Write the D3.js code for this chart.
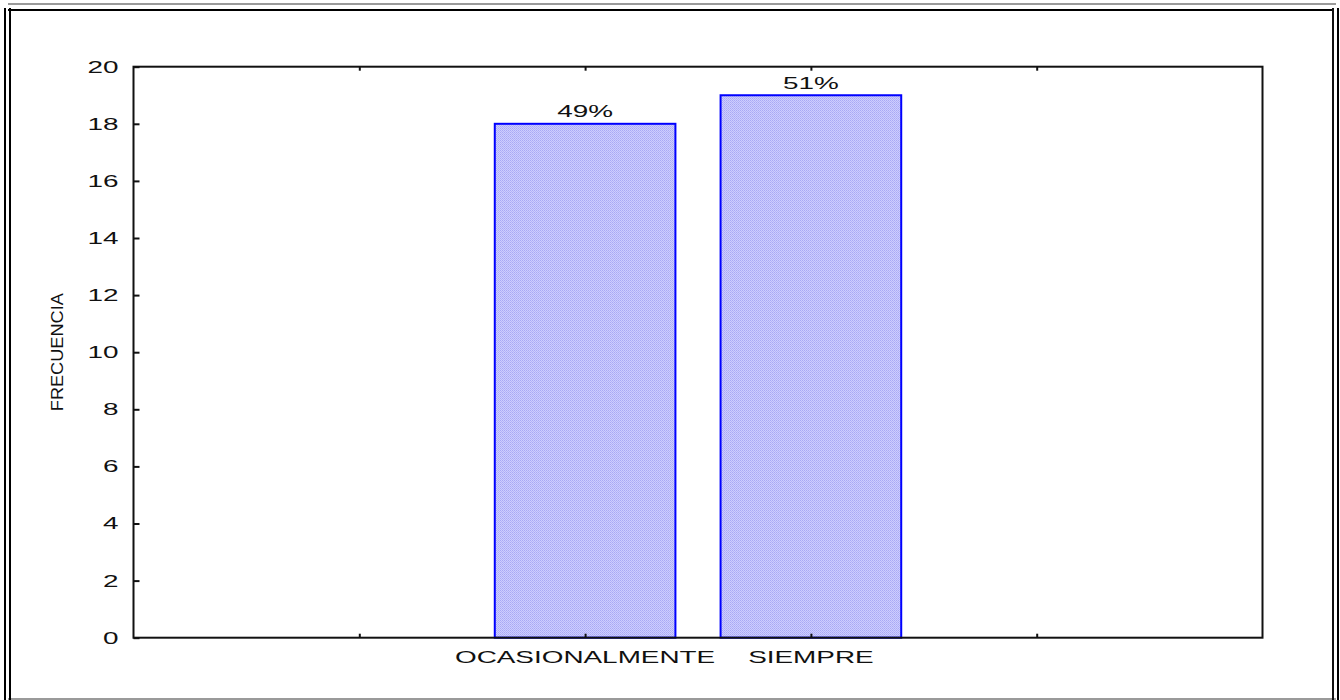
<!DOCTYPE html>
<html>
<head>
<meta charset="utf-8">
<script src="https://cdn.jsdelivr.net/npm/d3@7"></script>
<style>
  html, body { margin: 0; padding: 0; background: #fff; }
  svg { display: block; }
  text { font-family: "Liberation Sans", Arial, sans-serif; fill: #111; }
</style>
</head>
<body>
<svg id="chart" width="1340" height="700"></svg>
<script>
// Response categories and their frequencies
const categories = ["OCASIONALMENTE", "SIEMPRE"];
const frequencies = [18, 19];
// Slot of each category on the horizontal axis (0..5 frame, ticks at 1..4)
const categorySlots = [2, 3];
const xTickSlots = [1, 2, 3, 4];
const yTicks = [0, 2, 4, 6, 8, 10, 12, 14, 16, 18, 20];
const yTitle = "FRECUENCIA";

const W = 1340, H = 700;
const plot = { left: 133.5, right: 1262.5, top: 66.7, bottom: 637.7 };
const barWidthSlots = 0.8;
const fontSize = 17;
const stretch = 1.64; // horizontal widening of the lettering

const svg = d3.select("#chart");

// Dotted fill for the bars
const defs = svg.append("defs");
const pat = defs.append("pattern")
  .attr("id", "dots").attr("patternUnits", "userSpaceOnUse")
  .attr("width", 2).attr("height", 2);
pat.append("rect").attr("width", 2).attr("height", 2).attr("fill", "#cdcdff");
pat.append("rect").attr("width", 1).attr("height", 1).attr("fill", "#a9a9f4");
pat.append("rect").attr("x", 1).attr("y", 1).attr("width", 1).attr("height", 1).attr("fill", "#b4b4f6");

// Outer double frame
svg.append("line").attr("x1", 8).attr("x2", 1336).attr("y1", 4).attr("y2", 4)
  .attr("stroke", "#9a9a9a").attr("stroke-width", 2);
svg.append("line").attr("x1", 8).attr("x2", 1336).attr("y1", 699).attr("y2", 699)
  .attr("stroke", "#9a9a9a").attr("stroke-width", 2);
svg.append("line").attr("x1", 5).attr("x2", 5).attr("y1", 8).attr("y2", 700)
  .attr("stroke", "#000").attr("stroke-width", 2);
svg.append("line").attr("x1", 1338).attr("x2", 1338).attr("y1", 8).attr("y2", 700)
  .attr("stroke", "#000").attr("stroke-width", 2);
svg.append("line").attr("x1", 8).attr("x2", 1334).attr("y1", 10).attr("y2", 10)
  .attr("stroke", "#000").attr("stroke-width", 2);
svg.append("line").attr("x1", 10).attr("x2", 10).attr("y1", 8).attr("y2", 700)
  .attr("stroke", "#000").attr("stroke-width", 2);
svg.append("line").attr("x1", 1333).attr("x2", 1333).attr("y1", 8).attr("y2", 700)
  .attr("stroke", "#111").attr("stroke-width", 2);

// Scales
const x = d3.scaleLinear().domain([0, 5]).range([plot.left, plot.right]);
const y = d3.scaleLinear().domain([0, 20]).range([plot.bottom, plot.top]);

function widen(sel) {
  sel.each(function () {
    const len = this.getComputedTextLength();
    d3.select(this).attr("textLength", len * stretch).attr("lengthAdjust", "spacingAndGlyphs");
  });
}

// Bars
const data = categories.map((c, i) => ({ cat: c, slot: categorySlots[i], value: frequencies[i] }));
const total = d3.sum(frequencies);

svg.append("g").selectAll("rect").data(data).join("rect")
  .attr("x", d => x(d.slot - barWidthSlots / 2))
  .attr("width", d => x(d.slot + barWidthSlots / 2) - x(d.slot - barWidthSlots / 2))
  .attr("y", d => y(d.value))
  .attr("height", d => y(0) - y(d.value))
  .attr("fill", "url(#dots)")
  .attr("stroke", "#0000ff").attr("stroke-width", 2);

// Percentage labels above the bars
svg.append("g").selectAll("text").data(data).join("text")
  .attr("x", d => x(d.slot)).attr("y", d => y(d.value) - 6.5)
  .attr("text-anchor", "middle").style("font-size", fontSize + "px")
  .text(d => Math.round(d.value / total * 100) + "%")
  .call(widen);

// Plot frame
svg.append("rect")
  .attr("x", plot.left).attr("y", plot.top)
  .attr("width", plot.right - plot.left).attr("height", plot.bottom - plot.top)
  .attr("fill", "none").attr("stroke", "#111").attr("stroke-width", 2);

// Y axis (ticks pointing inward)
const yAxis = d3.axisLeft(y).tickValues(yTicks).tickSizeInner(-6).tickSizeOuter(0).tickPadding(15);
const gy = svg.append("g").attr("transform", `translate(${plot.left},0)`).call(yAxis);
gy.select(".domain").remove();
gy.selectAll("line").attr("stroke", "#111").attr("stroke-width", 2);
gy.attr("font-family", null).attr("font-size", null);
gy.selectAll("text").style("font-size", fontSize + "px")
  .attr("fill", "#111").call(widen);

// X axis ticks on bottom and top (inward)
const xBottom = d3.axisBottom(x).tickValues(xTickSlots).tickSizeInner(-4).tickSizeOuter(0).tickFormat("");
const gxb = svg.append("g").attr("transform", `translate(0,${plot.bottom})`).call(xBottom);
gxb.select(".domain").remove();
gxb.selectAll("line").attr("stroke", "#111").attr("stroke-width", 2);

const xTop = d3.axisTop(x).tickValues(xTickSlots).tickSizeInner(-4).tickSizeOuter(0).tickFormat("");
const gxt = svg.append("g").attr("transform", `translate(0,${plot.top})`).call(xTop);
gxt.select(".domain").remove();
gxt.selectAll("line").attr("stroke", "#111").attr("stroke-width", 2);

// Category labels
svg.append("g").selectAll("text").data(data).join("text")
  .attr("x", d => x(d.slot)).attr("y", 662.5)
  .attr("text-anchor", "middle").style("font-size", fontSize + "px")
  .text(d => d.cat)
  .call(widen);

// Y axis title
svg.append("text")
  .attr("transform", `translate(63,${(plot.top + plot.bottom) / 2}) rotate(-90)`)
  .attr("text-anchor", "middle")
  .style("font-size", "16px")
  .attr("textLength", 118).attr("lengthAdjust", "spacingAndGlyphs")
  .text(yTitle);
</script>
</body>
</html>
